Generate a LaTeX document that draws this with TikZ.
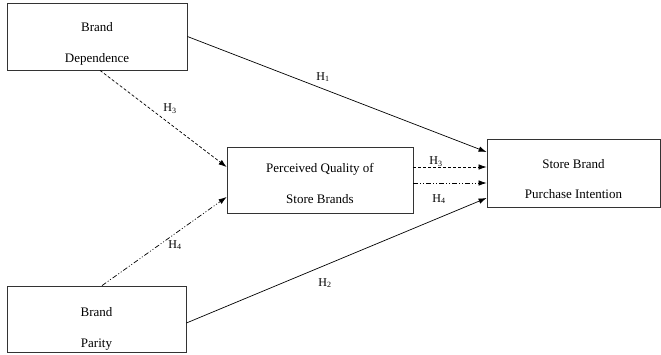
\documentclass[tikz,border=0pt]{standalone}
\usepackage{fontspec}
\setmainfont{Liberation Serif}
\usetikzlibrary{arrows.meta}
\newcommand{\topgap}[1]{\rule{0pt}{#1}}
\begin{document}
\begin{tikzpicture}[x=1pt, y=-1pt,
    box/.style={draw=black!80, line width=0.8pt, align=center, inner sep=0pt, font=\fontsize{13}{16}\selectfont},
    hlab/.style={font=\fontsize{12}{14}\selectfont, inner sep=1pt},
    arr/.style={-{Latex[length=8pt,width=5.5pt]}, line width=0.7pt},
    dashline/.style={dash pattern=on 3pt off 2pt},
    dotdashline/.style={dash pattern=on 5pt off 2pt on 1pt off 2pt on 1pt off 2pt}]
        \useasboundingbox (0,0) rectangle (661,354);

        % Riquadri
        \node[box, minimum width=180pt, minimum height=67pt] (dep) at (97,36.5) {\topgap{22.9pt}Brand\\[15pt]Dependence};
        \node[box, minimum width=179pt, minimum height=66pt] (par) at (96.5,319) {\topgap{28.9pt}Brand\\[15pt]Parity};
        \node[box, minimum width=186pt, minimum height=66pt] (qual) at (320,180) {\topgap{16.9pt}Perceived Quality of\\[15pt]Store Brands};
        \node[box, minimum width=173pt, minimum height=68pt] (int) at (573.5,173) {\topgap{20.9pt}Store Brand\\[14pt]Purchase Intention};

        % Effetti diretti
        \draw[arr] (dep.east) -- ([yshift=21pt]int.west);
        \draw[arr] ([yshift=-4pt]par.east) -- ([yshift=-25pt]int.west);

        % Effetti tramite la qualita percepita
        \draw[arr, dashline] ([xshift=3pt]dep.south) -- ([yshift=13pt]qual.west);
        \draw[arr, dotdashline] ([xshift=5.5pt]par.north) -- ([yshift=-17pt]qual.west);
        \draw[arr, dashline] ([yshift=13pt]qual.east) -- ([yshift=6pt]int.west);
        \draw[arr, dotdashline] ([yshift=-3pt]qual.east) -- ([yshift=-10pt]int.west);

        % Etichette
        \node[hlab] (h1) at (323,77) {H\textsubscript{1}};
        \node[hlab] (h2) at (325,283) {H\textsubscript{2}};
        \node[hlab] (h3a) at (170,109) {H\textsubscript{3}};
        \node[hlab] (h4a) at (175,245) {H\textsubscript{4}};
        \node[hlab] (h3b) at (436,162) {H\textsubscript{3}};
        \node[hlab] (h4b) at (439,199) {H\textsubscript{4}};
\end{tikzpicture}
\end{document}
